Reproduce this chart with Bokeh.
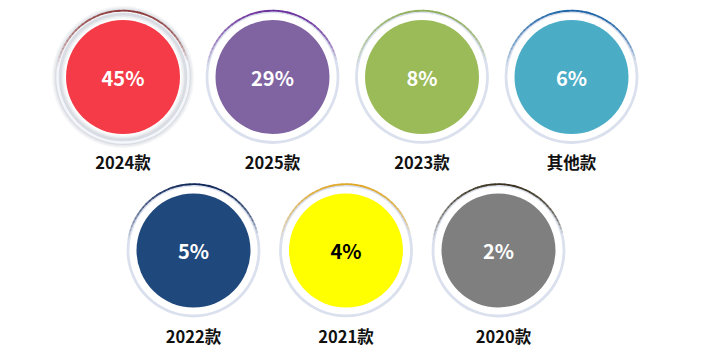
import numpy as np
from bokeh.plotting import figure
from bokeh.models import Range1d
from bokeh.core.properties import value
from bokeh.embed import file_html
from bokeh.resources import INLINE

# ---- data ----
categories = ["2024款", "2025款", "2023款", "其他款", "2022款", "2021款", "2020款"]
shares = [45, 29, 8, 6, 5, 4, 2]
fill_colors = ["#F43B47", "#8064A2", "#9BBB59", "#4BACC6", "#1F497D", "#FFFF00", "#7F7F7F"]
arc_colors = ["#8E3B3B", "#6A2E9A", "#8FAE5A", "#1C64A6", "#0E2657", "#E0A828", "#3A321E"]
text_colors = ["white", "white", "white", "white", "white", "black", "white"]

# ---- layout ----
W, H = 685, 351
row_sizes = [4, 3]
row_x0 = [122.5, 193]
row_dx = [149.5, 152.5]
row_y = [274.5, 101]
r_in, r_ring = 57, 65.5
label_dy = 85

xs, ys = [], []
for r, n in enumerate(row_sizes):
    for j in range(n):
        xs.append(row_x0[r] + j * row_dx[r])
        ys.append(row_y[r])

p = figure(width=W, height=H, output_backend="svg", toolbar_location=None,
           x_range=Range1d(0, W), y_range=Range1d(0, H), min_border=0)
p.axis.visible = False
p.grid.visible = False
p.outline_line_color = None
p.background_fill_color = "white"
p.border_fill_color = "white"

# shadow glow for the first (largest) bubble
for ri, ro, a in [(58.5, 71, 0.10), (60, 69.5, 0.13), (61.5, 68, 0.2)]:
    p.annulus(x=[xs[0]], y=[ys[0]], inner_radius=ri, outer_radius=ro,
              fill_color="#9aa2b4", fill_alpha=a, line_color=None)

# light rings
p.annulus(x=xs, y=ys, inner_radius=r_ring - 1.4, outer_radius=r_ring + 1.4,
          fill_color="#dae0ed", line_color=None)
p.annulus(x=[xs[0]], y=[ys[0]], inner_radius=r_ring - 1.2, outer_radius=r_ring + 1.2,
          fill_color="#f4f6fa", line_color=None)

# coloured gradient arcs at the top of each ring
N = 40
a0, a1 = np.deg2rad(15), np.deg2rad(170)
edges = np.linspace(a0, a1, N + 1)
t = (np.arange(N) + 0.5) / N
alpha = np.clip(np.sin(np.pi * t ** 0.85), 0, 1) ** 0.8
ax, ay, sa, ea, al, ac = [], [], [], [], [], []
for i in range(len(categories)):
    for k in range(N):
        ax.append(xs[i]); ay.append(ys[i])
        sa.append(edges[k]); ea.append(edges[k + 1] + 0.01)
        al.append(float(alpha[k])); ac.append(arc_colors[i])
p.arc(x=ax, y=ay, radius=r_ring + 0.8, start_angle=sa, end_angle=ea,
      line_color=ac, line_alpha=al, line_width=1.8)

# filled circles
p.circle(x=xs, y=ys, radius=r_in, fill_color=fill_colors, line_color=None)

# percentage texts
p.text(x=xs, y=ys, text=[f"{v}%" for v in shares], text_color=text_colors,
       text_align="center", text_baseline="middle", text_font_size="20px",
       text_font_style="bold", text_font=value("Noto Sans CJK SC"))

# category labels
lx = [x + (5 if i == 6 else 0) for i, x in enumerate(xs)]
p.text(x=lx, y=[y - label_dy for y in ys], text=categories, text_color="#111111",
       text_align="center", text_baseline="middle", text_font_size="16.5px",
       text_font_style="bold", text_font=value("Noto Sans CJK SC"))

open("out.html", "w").write(file_html(p, INLINE))
